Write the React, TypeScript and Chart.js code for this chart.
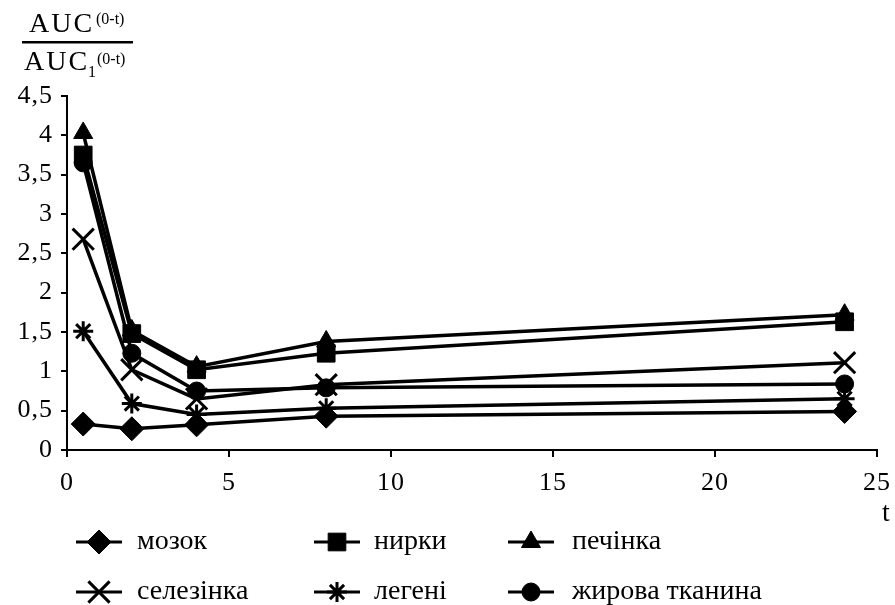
import React, { useEffect, useRef } from 'react';
import { Chart, registerables } from 'chart.js';
import { drawPoint } from 'chart.js/helpers';

Chart.register(...registerables);

const times = [0.5, 2, 4, 8, 24];
const seriesNames = ['мозок', 'нирки', 'печінка', 'селезінка', 'легені', 'жирова тканина'];
const brain = [0.33, 0.27, 0.32, 0.43, 0.49];
const kidneys = [3.75, 1.48, 1.02, 1.23, 1.63];
const liver = [4.03, 1.52, 1.06, 1.38, 1.72];
const spleen = [2.68, 1.02, 0.65, 0.83, 1.11];
const lungs = [1.51, 0.59, 0.45, 0.53, 0.65];
const fat = [3.65, 1.23, 0.75, 0.79, 0.84];
const seriesValues = [brain, kidneys, liver, spleen, lungs, fat];
const yMax = 4.5;
const yStep = 0.5;
const xMax = 25;
const xStep = 5;

const markerStyles = ['rectRot', 'rect', 'triangle', 'crossRot', 'star', 'circle'];
const markerRadii = [12, 12.5, 11, 15, 10, 9];
const markerBorders = [1, 1, 1, 3, 3, 1];

const FONT = '"Liberation Serif", "Times New Roman", serif';

const overlayPlugin = {
  id: 'overlay',
  beforeLayout(chart: any) {
    chart.ctx.letterSpacing = '1px';
  },
  beforeDraw(chart: any) {
    chart.ctx.letterSpacing = '1px';
  },
  afterDraw(chart: any) {
    const ctx: CanvasRenderingContext2D = chart.ctx;
    ctx.save();
    ctx.fillStyle = '#000';
    ctx.strokeStyle = '#000';
    ctx.textAlign = 'left';
    ctx.textBaseline = 'alphabetic';
    // fraction title
    (ctx as any).letterSpacing = '2px';
    ctx.font = `28px ${FONT}`;
    ctx.fillText('AUC', 29, 32);
    (ctx as any).letterSpacing = '0px';
    ctx.font = `16px ${FONT}`;
    ctx.fillText('(0-t)', 96, 24);
    ctx.fillRect(22, 41, 111, 2.5);
    (ctx as any).letterSpacing = '2px';
    ctx.font = `28px ${FONT}`;
    ctx.fillText('AUC', 24, 70);
    (ctx as any).letterSpacing = '0px';
    ctx.font = `16px ${FONT}`;
    ctx.fillText('1', 88, 77);
    ctx.fillText('(0-t)', 97, 64);
    // axis title t
    ctx.font = `28px ${FONT}`;
    ctx.textAlign = 'center';
    ctx.textBaseline = 'middle';
    ctx.fillText('t', 886, 514);
    // legend
    const markerX = [99, 337, 531];
    const textX = [137, 374, 572];
    const rowY = [542, 592];
    (ctx as any).letterSpacing = '0px';
    chart.data.datasets.forEach((ds: any, i: number) => {
      const col = i % 3;
      const row = Math.floor(i / 3);
      const cx = markerX[col];
      const cy = rowY[row];
      ctx.lineWidth = 3;
      ctx.beginPath();
      ctx.moveTo(cx - 23, cy);
      ctx.lineTo(cx + 23, cy);
      ctx.stroke();
      ctx.fillStyle = '#000';
      ctx.strokeStyle = '#000';
      ctx.lineWidth = ds.pointBorderWidth;
      drawPoint(ctx, {
        pointStyle: ds.pointStyle,
        rotation: 0,
        radius: ds.pointRadius,
        borderWidth: ds.pointBorderWidth,
      } as any, cx, cy);
      ctx.fillStyle = '#000';
      ctx.font = `28px ${FONT}`;
      ctx.textAlign = 'left';
      ctx.textBaseline = 'middle';
      ctx.fillText(ds.label, textX[col], cy);
    });
    ctx.restore();
  },
};

export default function App() {
  const canvasRef = useRef<HTMLCanvasElement | null>(null);

  useEffect(() => {
    document.body.style.margin = '0';
    const canvas = canvasRef.current;
    if (!canvas) return;
    const datasets = seriesNames.map((name, i) => ({
      label: name,
      data: times.map((t, j) => ({ x: t, y: seriesValues[i][j] })),
      borderColor: '#000',
      backgroundColor: '#000',
      borderWidth: 3.5,
      pointStyle: markerStyles[i],
      pointRadius: markerRadii[i],
      pointHoverRadius: markerRadii[i],
      pointBackgroundColor: '#000',
      pointBorderColor: '#000',
      pointBorderWidth: markerBorders[i],
      tension: 0,
      fill: false,
      clip: false,
    }));
    const chart = new Chart(canvas, {
      type: 'line',
      data: { datasets },
      plugins: [overlayPlugin],
      options: {
        responsive: false,
        animation: false,
        devicePixelRatio: 1,
        layout: { padding: { top: 96, right: 10, left: 0, bottom: 0 } },
        plugins: {
          legend: { display: false },
          tooltip: { enabled: false },
          title: { display: false },
        },
        scales: {
          x: {
            type: 'linear',
            min: 0,
            max: xMax,
            afterFit: (s: any) => { s.height = 155; s.paddingRight = 0; s.paddingLeft = 0; },
            ticks: {
              stepSize: xStep,
              color: '#000',
              font: { family: FONT, size: 26 },
              padding: 11,
              maxRotation: 0,
            },
            grid: { drawOnChartArea: false, drawTicks: true, tickLength: 7, color: '#000', lineWidth: 2 },
            border: { color: '#000', width: 2 },
          },
          y: {
            type: 'linear',
            min: 0,
            max: yMax,
            afterFit: (s: any) => { s.width = 67; },
            ticks: {
              stepSize: yStep,
              color: '#000',
              font: { family: FONT, size: 26 },
              padding: 8,
              callback: (v: any) => String(v).replace('.', ','),
            },
            grid: { drawOnChartArea: false, drawTicks: true, tickLength: 6, color: '#000', lineWidth: 2 },
            border: { color: '#000', width: 2 },
          },
        },
      } as any,
    });
    return () => chart.destroy();
  }, []);

  return (
    <div style={{ width: 895, height: 605, background: '#fff' }}>
      <canvas ref={canvasRef} width={895} height={605} style={{ display: 'block' }} />
    </div>
  );
}
